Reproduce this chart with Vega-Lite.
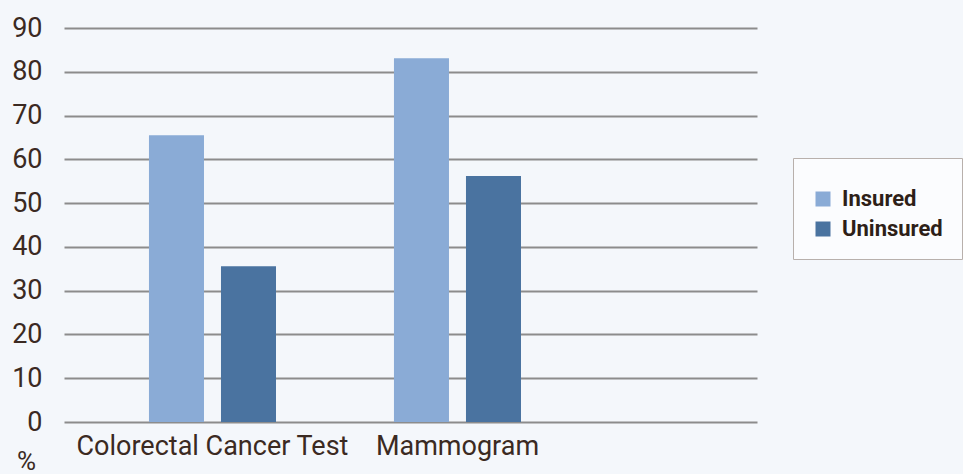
{
  "$schema": "https://vega.github.io/schema/vega-lite/v6.json",
  "autosize": "none",
  "width": 693,
  "height": 394,
  "padding": {"left": 64, "top": 28, "right": 206, "bottom": 52},
  "background": "#f4f7fb",
  "config": {
    "view": {"stroke": null},
    "font": "Roboto, sans-serif"
  },
  "data": {
    "values": [
      {"test": "Colorectal Cancer Test", "group": "Insured", "value": 65.5},
      {"test": "Colorectal Cancer Test", "group": "Uninsured", "value": 35.6},
      {"test": "Mammogram", "group": "Insured", "value": 83.1},
      {"test": "Mammogram", "group": "Uninsured", "value": 56.2}
    ]
  },
  "mark": {"type": "bar"},
  "encoding": {
    "x": {
      "field": "test",
      "type": "nominal",
      "sort": ["Colorectal Cancer Test", "Mammogram"],
      "scale": {"paddingInner": 0, "paddingOuter": 0.4143, "align": 0.128},
      "axis": {
        "title": null,
        "domain": false,
        "ticks": false,
        "labelAngle": 0,
        "labelFontSize": 27,
        "labelLimit": 0,
        "labelColor": "#3b2a22",
        "labelPadding": 11,
        "labelFont": "Roboto, sans-serif"
      }
    },
    "xOffset": {
      "field": "group",
      "type": "nominal",
      "sort": ["Insured", "Uninsured"],
      "scale": {"paddingInner": 0.236, "paddingOuter": 0.819}
    },
    "y": {
      "field": "value",
      "type": "quantitative",
      "scale": {"domain": [0, 90], "nice": false},
      "axis": {
        "values": [0, 10, 20, 30, 40, 50, 60, 70, 80, 90],
        "title": "%",
        "titleAngle": 0,
        "titleX": -38,
        "titleY": 441,
        "titleAlign": "center",
        "titleBaseline": "alphabetic",
        "titleFontSize": 26,
        "titleFontWeight": "normal",
        "titleColor": "#3b2a22",
        "titleFont": "Roboto, sans-serif",
        "domain": false,
        "ticks": false,
        "grid": true,
        "gridColor": "#8c8c8c",
        "gridWidth": 1.8,
        "gridOpacity": 1,
        "labelFontSize": 27,
        "labelColor": "#3b2a22",
        "labelPadding": 22,
        "labelFont": "Roboto, sans-serif"
      }
    },
    "color": {
      "field": "group",
      "type": "nominal",
      "sort": ["Insured", "Uninsured"],
      "scale": {"domain": ["Insured", "Uninsured"], "range": ["#8aabd6", "#4a73a0"]},
      "legend": {
        "title": "                                                            ",
        "titleFontSize": 9,
        "titlePadding": 2,
        "orient": "none",
        "legendX": 729,
        "legendY": 130,
        "padding": 19,
        "strokeColor": "#b8b0ac",
        "fillColor": "#fbfcfe",
        "symbolType": "square",
        "symbolSize": 225,
        "symbolStrokeWidth": 0,
        "symbolOpacity": 1,
        "labelFontSize": 22,
        "labelFontWeight": "bold",
        "labelColor": "#2e1f18",
        "labelOffset": 8,
        "rowPadding": 8,
        "labelFont": "Roboto, sans-serif"
      }
    }
  }
}
